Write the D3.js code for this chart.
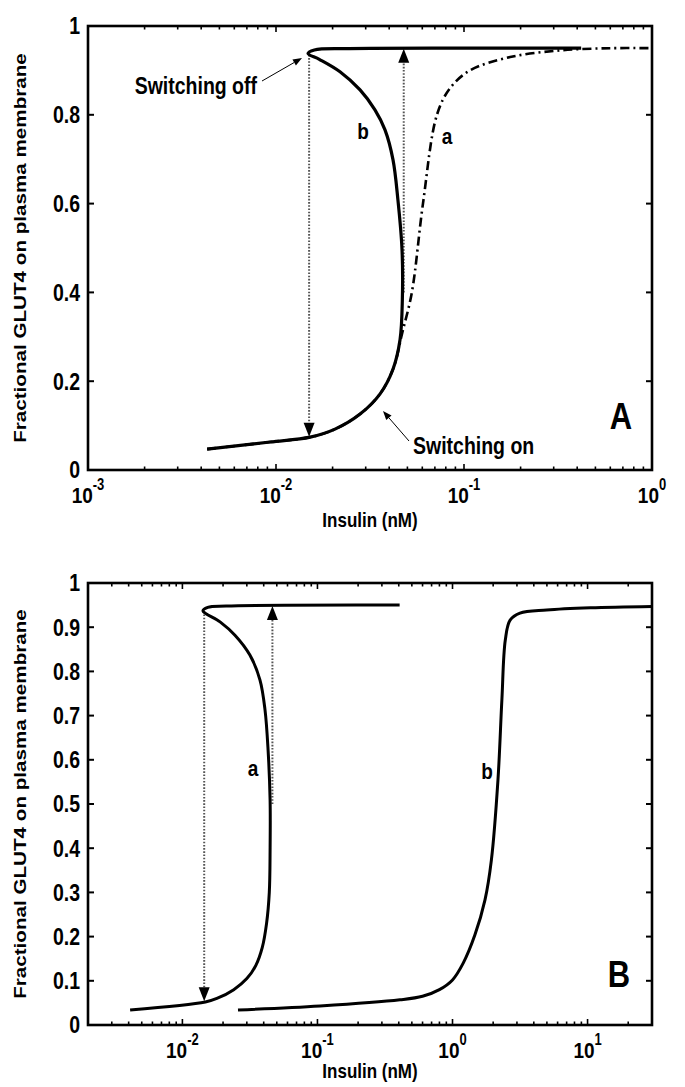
<!DOCTYPE html>
<html><head><meta charset="utf-8">
<script src="https://cdn.jsdelivr.net/npm/d3@7"></script>
<style>html,body{margin:0;padding:0;background:#fff;}svg{display:block;}</style>
</head><body>
<script>
// ---- data ----
// Panel A
const aX_b = [0.0043,0.0093,0.0152,0.0206,0.0280,0.0357,0.0419,0.0457,0.0470,0.0468,0.0445,0.0419,0.0380,0.0336,0.0280,0.0219,0.0170,0.0148,0.0160,0.0245,0.10,0.42];
const aY_b = [0.047,0.063,0.074,0.092,0.126,0.171,0.227,0.294,0.384,0.497,0.609,0.699,0.766,0.811,0.856,0.897,0.925,0.938,0.946,0.949,0.950,0.950];
const aX_a = [0.0043,0.0093,0.0152,0.0206,0.0280,0.0357,0.0419,0.0470,0.0528,0.0605,0.0718,0.0843,0.1077,0.176,0.324,0.60,1.0];
const aY_a = [0.047,0.063,0.074,0.092,0.126,0.171,0.227,0.310,0.400,0.600,0.800,0.860,0.900,0.930,0.945,0.950,0.950];
// Panel B
const bX_a = [0.0041,0.0148,0.0180,0.0240,0.0300,0.0350,0.0390,0.0420,0.0440,0.0446,0.0446,0.0431,0.0409,0.0375,0.0316,0.0245,0.0190,0.0142,0.0154,0.0211,0.406];
const bY_a = [0.034,0.052,0.060,0.080,0.105,0.135,0.175,0.230,0.300,0.396,0.509,0.622,0.713,0.781,0.837,0.882,0.912,0.937,0.945,0.948,0.950];
const bX_b = [0.0258,0.1045,0.408,0.60,0.80,1.0,1.2,1.466,1.74,1.94,2.17,2.32,2.46,2.67,3.16,4.98,10.5,30];
const bY_b = [0.034,0.043,0.057,0.065,0.080,0.102,0.140,0.204,0.283,0.373,0.554,0.735,0.871,0.916,0.932,0.939,0.944,0.947];

const aYTicks = [0,0.2,0.4,0.6,0.8,1];
const aYLabels = ["0","0.2","0.4","0.6","0.8","1"];
const bYTicks = [0,0.1,0.2,0.3,0.4,0.5,0.6,0.7,0.8,0.9,1];
const bYLabels = ["0","0.1","0.2","0.3","0.4","0.5","0.6","0.7","0.8","0.9","1"];
const aXTicks = [1e-3,1e-2,1e-1,1e0];
const aXExp = ["-3","-2","-1","0"];
const bXTicks = [1e-2,1e-1,1e0,1e1];
const bXExp = ["-2","-1","0","1"];

const yTitle = "Fractional GLUT4 on plasma membrane";
const xTitle = "Insulin (nM)";

// ---- layout ----
const W = 685, H = 1087;
const SY = 1.2;
const FONT = "'Liberation Sans', Arial, Helvetica, sans-serif";
const svg = d3.select("body").append("svg").attr("width", W).attr("height", H)
  .style("font-family", FONT);

function stext(g, x, y, str, opt) {
  opt = opt || {};
  const t = g.append("text")
    .attr("transform", `translate(${x},${y}) scale(1,${SY})`)
    .attr("text-anchor", opt.anchor || "middle")
    .attr("font-size", opt.size || 17)
    .attr("font-weight", opt.weight || "bold")
    .attr("fill", "#000");
  if (opt.dy) t.attr("dy", opt.dy);
  t.text(str);
  return t;
}

function panel(cfg) {
  const g = svg.append("g");
  const x = d3.scaleLog().domain(cfg.xDomain).range([cfg.left, cfg.right]);
  const y = d3.scaleLinear().domain([0, 1]).range([cfg.bottom, cfg.top]);
  const line = d3.line().x(d => x(d[0])).y(d => y(d[1])).curve(d3.curveCatmullRom.alpha(0.5));

  const allX = x.ticks().filter(v => v >= cfg.xDomain[0] * 0.999 && v <= cfg.xDomain[1] * 1.001);
  allX.forEach(v => {
    const major = Math.abs(Math.log10(v) - Math.round(Math.log10(v))) < 1e-6;
    const len = major ? 6 : 3.5;
    const px = x(v);
    g.append("line").attr("x1", px).attr("x2", px).attr("y1", cfg.bottom).attr("y2", cfg.bottom - len)
      .attr("stroke", "#000").attr("stroke-width", 1.6);
    g.append("line").attr("x1", px).attr("x2", px).attr("y1", cfg.top).attr("y2", cfg.top + len)
      .attr("stroke", "#000").attr("stroke-width", 1.6);
  });
  cfg.yTicks.forEach((v, i) => {
    const py = y(v);
    g.append("line").attr("x1", cfg.left).attr("x2", cfg.left + 6).attr("y1", py).attr("y2", py)
      .attr("stroke", "#000").attr("stroke-width", 2);
    g.append("line").attr("x1", cfg.right).attr("x2", cfg.right - 6).attr("y1", py).attr("y2", py)
      .attr("stroke", "#000").attr("stroke-width", 2);
    stext(g, cfg.left - 8, py, cfg.yLabels[i], {anchor: "end", size: 19.5, dy: "0.36em"});
  });
  cfg.xTicks.forEach((v, i) => {
    const t = g.append("text")
      .attr("transform", `translate(${x(v)},${cfg.xLabelY}) scale(1,${SY})`)
      .attr("text-anchor", "middle").attr("font-size", 19).attr("font-weight", "bold");
    t.append("tspan").text("10");
    t.append("tspan").attr("font-size", 13).attr("dy", "-0.85em").text(cfg.xExp[i]);
  });

  cfg.arrows.forEach(a => {
    const px = x(a.x), y0 = y(a.from), y1 = y(a.to);
    const dir = y1 > y0 ? 1 : -1;
    const hl = 14, hw = 5.5;
    g.append("line").attr("x1", px).attr("x2", px).attr("y1", y0).attr("y2", y1 - dir * hl)
      .attr("stroke", "#555").attr("stroke-width", 2).attr("stroke-dasharray", "1.6,1.6");
    g.append("path").attr("d", `M${px},${y1} L${px - hw},${y1 - dir * hl} L${px + hw},${y1 - dir * hl} Z`)
      .attr("fill", "#000");
  });

  cfg.curves.forEach(c => {
    g.append("path").datum(d3.zip(c.xs, c.ys)).attr("d", line)
      .attr("fill", "none").attr("stroke", "#000").attr("stroke-width", c.w || 3)
      .attr("stroke-linejoin", "round")
      .attr("stroke-dasharray", c.dash || null);
  });

  cfg.curveLabels.forEach(l => stext(g, l.px, l.py, l.t, {size: 19, dy: "0.36em"}));

  g.append("rect").attr("x", cfg.left).attr("y", cfg.top)
    .attr("width", cfg.right - cfg.left).attr("height", cfg.bottom - cfg.top)
    .attr("fill", "none").attr("stroke", "#000").attr("stroke-width", 2.6);

  stext(g, (cfg.left + cfg.right) / 2, cfg.xTitleY, xTitle, {size: 17, weight: "bold"});
  g.append("text")
    .attr("transform", `translate(${cfg.yTitleX},${(cfg.top + cfg.bottom) / 2}) scale(1,${SY}) rotate(-90)`)
    .attr("text-anchor", "middle").attr("font-size", 17.2).attr("font-weight", "bold").attr("dy", "0.36em")
    .text(yTitle);
  stext(g, cfg.letter.px, cfg.letter.py, cfg.letter.t, {size: 31, dy: "0.36em"});
  return {g, x, y};
}

const A = panel({
  left: 88, right: 652, top: 26, bottom: 470,
  xDomain: [1e-3, 1], yTicks: aYTicks, yLabels: aYLabels,
  xTicks: aXTicks, xExp: aXExp, xLabelY: 503, xTitleY: 527, yTitleX: 20,
  arrows: [{x: 0.0150, from: 0.935, to: 0.075}, {x: 0.0478, from: 0.40, to: 0.949}],
  curves: [
    {xs: aX_a, ys: aY_a, w: 2.6, dash: "9,4,2,4"},
    {xs: aX_b, ys: aY_b, w: 3.2}
  ],
  curveLabels: [{px: 363, py: 131, t: "b"}, {px: 447, py: 136, t: "a"}],
  letter: {px: 621, py: 416, t: "A"}
});

const B = panel({
  left: 88, right: 652, top: 583, bottom: 1025,
  xDomain: [0.002, 30], yTicks: bYTicks, yLabels: bYLabels,
  xTicks: bXTicks, xExp: bXExp, xLabelY: 1058, xTitleY: 1078, yTitleX: 20,
  arrows: [{x: 0.0145, from: 0.936, to: 0.054}, {x: 0.0464, from: 0.5, to: 0.948}],
  curves: [
    {xs: bX_a, ys: bY_a, w: 3},
    {xs: bX_b, ys: bY_b, w: 3}
  ],
  curveLabels: [{px: 253, py: 768, t: "a"}, {px: 487, py: 771, t: "b"}],
  letter: {px: 619, py: 974, t: "B"}
});

function annot(g, x1, y1, x2, y2) {
  const ang = Math.atan2(y2 - y1, x2 - x1), hl = 9, hw = 3.5;
  const bx = x2 - hl * Math.cos(ang), by = y2 - hl * Math.sin(ang);
  g.append("line").attr("x1", x1).attr("y1", y1).attr("x2", bx).attr("y2", by)
    .attr("stroke", "#000").attr("stroke-width", 1);
  const px = -Math.sin(ang) * hw, py = Math.cos(ang) * hw;
  g.append("path").attr("d", `M${x2},${y2} L${bx + px},${by + py} L${bx - px},${by - py} Z`).attr("fill", "#000");
}
stext(A.g, 257, 86, "Switching off", {anchor: "end", size: 19.5, dy: "0.36em"});
annot(A.g, 262, 81, 302, 58);
stext(A.g, 413, 446, "Switching on", {anchor: "start", size: 19.5, dy: "0.36em"});
annot(A.g, 409, 441, 383, 411);
</script>
</body></html>
